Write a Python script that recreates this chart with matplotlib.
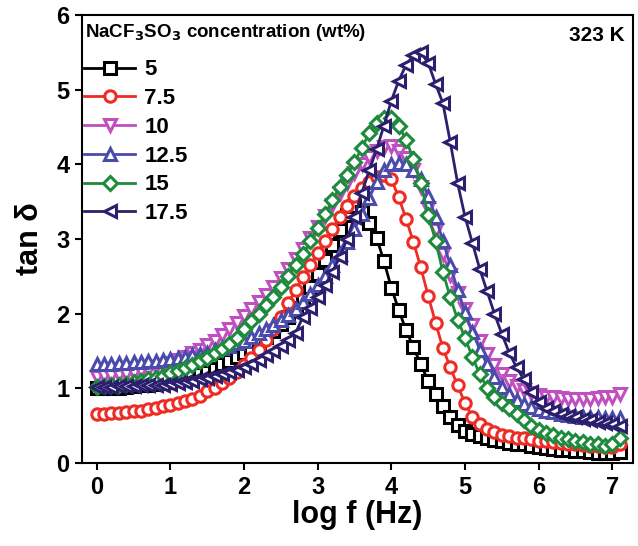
import numpy as np
import matplotlib
matplotlib.use("Agg")
import matplotlib.pyplot as plt

plt.rcParams['font.family'] = ['Liberation Sans', 'DejaVu Sans']
plt.rcParams['font.weight'] = 'bold'
plt.rcParams['mathtext.default'] = 'bf'

# log f grid, 10 points per decade
log_f = np.round(np.arange(0, 7.15, 0.1), 1)

tan_5 = [1.00, 1.00, 1.01, 1.01, 1.02, 1.03, 1.04, 1.05, 1.06, 1.07,
         1.09, 1.11, 1.13, 1.16, 1.19, 1.22, 1.26, 1.32, 1.37, 1.42,
         1.48, 1.54, 1.61, 1.69, 1.77, 1.86, 1.96, 2.07, 2.20, 2.36,
         2.53, 2.72, 2.92, 3.12, 3.32, 3.44, 3.36, 3.22, 3.02, 2.70,
         2.35, 2.05, 1.78, 1.55, 1.32, 1.10, 0.92, 0.76, 0.62, 0.51,
         0.43, 0.39, 0.36, 0.33, 0.31, 0.29, 0.27, 0.26, 0.25, 0.23,
         0.21, 0.20, 0.19, 0.18, 0.17, 0.16, 0.16, 0.15, 0.14, 0.14,
         0.13, 0.15]

tan_7_5 = [0.66, 0.66, 0.67, 0.67, 0.68, 0.69, 0.70, 0.72, 0.74, 0.76,
           0.78, 0.80, 0.83, 0.86, 0.90, 0.96, 1.01, 1.07, 1.14, 1.22,
           1.31, 1.41, 1.52, 1.65, 1.80, 1.96, 2.14, 2.32, 2.49, 2.65,
           2.81, 2.97, 3.13, 3.29, 3.44, 3.57, 3.68, 3.77, 3.83, 3.86,
           3.80, 3.56, 3.27, 2.96, 2.62, 2.24, 1.88, 1.54, 1.28, 1.04,
           0.80, 0.62, 0.52, 0.45, 0.41, 0.38, 0.36, 0.34, 0.33, 0.32,
           0.30, 0.29, 0.28, 0.27, 0.26, 0.25, 0.24, 0.23, 0.23, 0.22,
           0.22, 0.26]

tan_10 = [1.15, 1.16, 1.17, 1.18, 1.19, 1.21, 1.23, 1.25, 1.28, 1.31,
          1.34, 1.38, 1.42, 1.47, 1.52, 1.58, 1.64, 1.71, 1.79, 1.88,
          1.97, 2.06, 2.15, 2.25, 2.36, 2.48, 2.60, 2.73, 2.87, 3.01,
          3.16, 3.31, 3.46, 3.61, 3.75, 3.88, 4.00, 4.10, 4.18, 4.23,
          4.24, 4.18, 4.08, 3.92, 3.70, 3.42, 3.12, 2.80, 2.52, 2.28,
          2.06, 1.85, 1.64, 1.46, 1.31, 1.19, 1.10, 1.03, 0.98, 0.94,
          0.91, 0.89, 0.88, 0.87, 0.86, 0.86, 0.86, 0.86, 0.87, 0.88,
          0.89, 0.92]

tan_12_5 = [1.32, 1.33, 1.33, 1.34, 1.34, 1.35, 1.35, 1.36, 1.37, 1.38,
            1.39, 1.40, 1.42, 1.44, 1.46, 1.48, 1.51, 1.54, 1.57, 1.61,
            1.64, 1.69, 1.74, 1.79, 1.85, 1.91, 1.98, 2.06, 2.15, 2.26,
            2.38, 2.51, 2.65, 2.80, 2.96, 3.13, 3.33, 3.55, 3.76, 3.93,
            4.00, 4.02, 4.00, 3.92, 3.80, 3.58, 3.30, 2.98, 2.65, 2.32,
            2.02, 1.76, 1.52, 1.32, 1.15, 1.02, 0.92, 0.85, 0.79, 0.75,
            0.72, 0.70, 0.68, 0.66, 0.64, 0.63, 0.62, 0.61, 0.61, 0.60,
            0.60, 0.60]

tan_15 = [1.02, 1.03, 1.04, 1.05, 1.06, 1.08, 1.10, 1.12, 1.14, 1.17,
          1.20, 1.23, 1.27, 1.31, 1.36, 1.41, 1.47, 1.53, 1.60, 1.68,
          1.80, 1.90, 2.00, 2.11, 2.23, 2.36, 2.50, 2.65, 2.80, 2.97,
          3.15, 3.33, 3.52, 3.70, 3.86, 4.03, 4.22, 4.42, 4.56, 4.62,
          4.62, 4.52, 4.33, 4.07, 3.75, 3.32, 2.98, 2.56, 2.22, 1.92,
          1.68, 1.42, 1.19, 1.01, 0.89, 0.81, 0.74, 0.66, 0.58, 0.50,
          0.44, 0.40, 0.37, 0.34, 0.32, 0.30, 0.28, 0.26, 0.25, 0.23,
          0.25, 0.33]

tan_17_5 = [1.02, 1.02, 1.02, 1.03, 1.03, 1.03, 1.04, 1.04, 1.05, 1.05,
            1.06, 1.07, 1.08, 1.10, 1.12, 1.14, 1.16, 1.19, 1.22, 1.25,
            1.29, 1.33, 1.38, 1.44, 1.50, 1.57, 1.65, 1.74, 1.96, 2.08,
            2.22, 2.38, 2.56, 2.76, 3.00, 3.30, 3.62, 3.92, 4.20, 4.52,
            4.85, 5.12, 5.33, 5.46, 5.50, 5.36, 5.08, 4.82, 4.30, 3.75,
            3.30, 2.95, 2.60, 2.30, 2.00, 1.73, 1.48, 1.28, 1.12, 0.95,
            0.82, 0.74, 0.69, 0.66, 0.63, 0.61, 0.59, 0.57, 0.55, 0.53,
            0.52, 0.50]

labels = ['5', '7.5', '10', '12.5', '15', '17.5']
series = [tan_5, tan_7_5, tan_10, tan_12_5, tan_15, tan_17_5]
colors = ['#000000', '#ee2b24', '#c04fc0', '#4b4bab', '#1e8a3c', '#2b1f6e']
markers = ['s', 'o', 'v', '^', 'D', '<']

fig = plt.figure(figsize=(6.38, 5.46), dpi=100)
ax = fig.add_axes([0.1285, 0.152, 0.8635, 0.8205])

for y, lab, c, m in zip(series, labels, colors, markers):
    ms = 7.2 if m == 'D' else 8.2
    ax.plot(log_f, y, color=c, marker=m, markersize=ms, markerfacecolor='white',
            markeredgecolor=c, markeredgewidth=2.2, linewidth=2.0, label=lab)

ax.set_xlim(-0.2, 7.28)
ax.set_ylim(0, 6)
ax.set_xticks(range(0, 8))
ax.set_yticks(range(0, 7))
ax.tick_params(direction='out', length=5, width=1.5, labelsize=17, pad=4)
for lbl in ax.get_xticklabels() + ax.get_yticklabels():
    lbl.set_fontweight('bold')
for sp in ax.spines.values():
    sp.set_linewidth(1.5)

ax.set_xlabel('log f (Hz)', fontsize=22, fontweight='bold', labelpad=1)
ax.set_ylabel('tan δ', fontsize=22, fontweight='bold', labelpad=8)

# legend title drawn as text, entries below it
ax.text(0.006, 0.962, 'NaCF$_3$SO$_3$ concentration (wt%)', transform=ax.transAxes,
        ha='left', va='center', fontsize=13.5, fontweight='bold')
ax.legend(loc='upper left', bbox_to_anchor=(0.0, 0.906), frameon=False, fontsize=16,
          handlelength=2.3, handletextpad=0.4, labelspacing=0.35,
          borderaxespad=0.0, borderpad=0.1)

ax.text(0.985, 0.955, '323 K', transform=ax.transAxes, ha='right', va='center',
        fontsize=15, fontweight='bold')

fig.savefig('out.png', dpi=100)
